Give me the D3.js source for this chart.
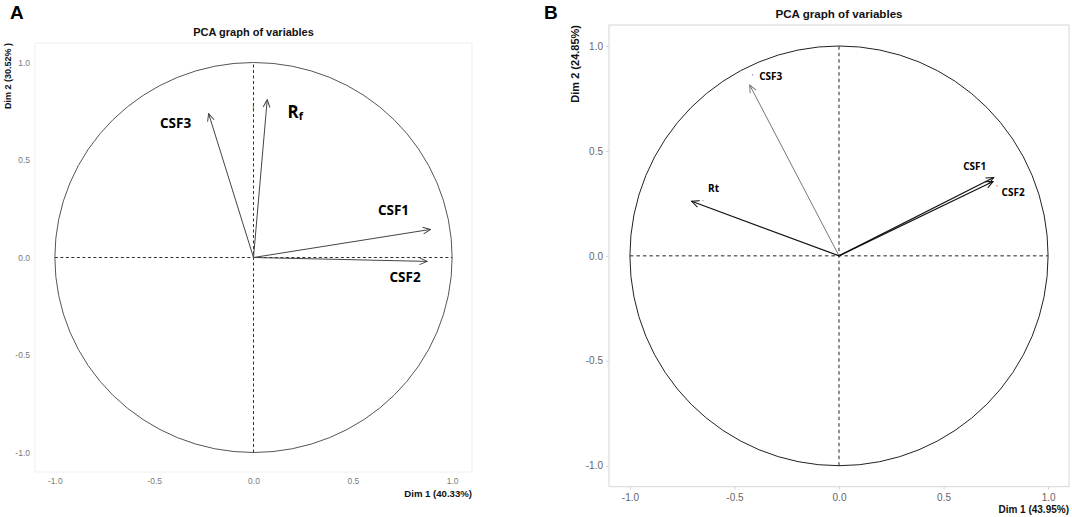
<!DOCTYPE html>
<html>
<head>
<meta charset="utf-8">
<script src="https://cdn.jsdelivr.net/npm/d3@7"></script>
<style>
  body { margin: 0; background: #fff; }
</style>
</head>
<body>
<script>
// values
const ticks = [-1.0, -0.5, 0.0, 0.5, 1.0];

const varsA = ["CSF1", "CSF2", "CSF3", "Rf"];
const dim1A = [0.891, 0.874, -0.226, 0.069];
const dim2A = [0.144, -0.020, 0.738, 0.809];

const varsB = ["CSF1", "CSF2", "CSF3", "Rt"];
const dim1B = [0.740, 0.737, -0.427, -0.705];
const dim2B = [0.373, 0.354, 0.814, 0.260];

const W = 1072, H = 517;
const svg = d3.select("body").append("svg")
    .attr("width", W)
    .attr("height", H)
    .style("font-family", "'Liberation Sans', Arial, sans-serif");

const defs = svg.append("defs");

function arrowMarker(id, color) {
  defs.append("marker")
    .attr("id", id)
    .attr("markerUnits", "userSpaceOnUse")
    .attr("viewBox", "-10 -5 11 10")
    .attr("refX", 0)
    .attr("refY", 0)
    .attr("markerWidth", 11)
    .attr("markerHeight", 10)
    .attr("orient", "auto")
    .append("path")
      .attr("d", "M-7.5,-3.4L0,0L-7.5,3.4")
      .attr("fill", "none")
      .attr("stroke", color)
      .attr("stroke-width", 1);
  return `url(#${id})`;
}

const panels = [
  {
    id: "A", vars: varsA, d1: dim1A, d2: dim2A,
    left: 35, right: 472, top: 43, bottom: 472,
    letterX: 10, frame: "#efefef", tickLen: 0,
    tickColor: "#7a7a7a", tickFont: 8.5, xPad: 5.7, yPad: 5,
    title: { x: 253.5, y: 35.5, size: 11 },
    ylab: { text: "Dim 2 (30.52% )", x: 11, size: 9 },
    xlab: { text: "Dim 1 (40.33%)", y: 497, size: 9.6 },
    circle: "#555", dash: "#333", dashArray: "3,2.5",
    arrowColors: ["#444", "#444", "#444", "#444"],
    labelFont: 13.5, subscript: true,
    offsets: [[-37, -19], [-22, 16], [-33, 9], [28, 11]],
    marks: [[], [], [], [{ dx: -13.7, dy: 5.7, t: "|" }]]
  },
  {
    id: "B", vars: varsB, d1: dim1B, d2: dim2B,
    left: 609, right: 1069, top: 25, bottom: 486.7,
    letterX: 544, frame: "#d6d6d6", tickLen: 3,
    tickColor: "#666", tickFont: 10, xPad: 4, yPad: 3,
    title: { x: 839, y: 17.5, size: 11.6 },
    ylab: { text: "Dim 2 (24.85%)", x: 579, size: 11 },
    xlab: { text: "Dim 1 (43.95%)", y: 513, size: 10 },
    circle: "#222", dash: "#222", dashArray: "3.5,3",
    arrowColors: ["#111", "#111", "#777", "#111"],
    labelFont: 10, subscript: false,
    offsets: [[-19, -12], [20, 10], [21, -9], [22, -13.5]],
    marks: [[], [{ dx: 3.7, dy: 6, t: "'" }], [{ dx: 2.7, dy: -9, t: "'" }],
            [{ dx: 6, dy: -3, t: "." }, { dx: 11.5, dy: -3, t: "." }]]
  }
];

function drawPanel(p) {
  const x = d3.scaleLinear().domain([-1.1, 1.1]).range([p.left, p.right]);
  const y = d3.scaleLinear().domain([-1.1, 1.1]).range([p.bottom, p.top]);
  const g = svg.append("g");

  // panel letter
  g.append("text")
    .attr("x", p.letterX).attr("y", 19)
    .attr("font-size", 19).attr("font-weight", "bold")
    .attr("fill", "#000")
    .text(p.id);

  // frame
  g.append("rect")
    .attr("x", p.left).attr("y", p.top)
    .attr("width", p.right - p.left).attr("height", p.bottom - p.top)
    .attr("fill", "none").attr("stroke", p.frame);

  // axes
  const fmt = d => d.toFixed(1);
  const xa = g.append("g")
    .attr("transform", `translate(0,${p.bottom})`)
    .call(d3.axisBottom(x).tickValues(ticks).tickSize(p.tickLen).tickPadding(p.xPad).tickFormat(fmt));
  const ya = g.append("g")
    .attr("transform", `translate(${p.left},0)`)
    .call(d3.axisLeft(y).tickValues(ticks).tickSize(p.tickLen).tickPadding(p.yPad).tickFormat(fmt));
  [xa, ya].forEach(a => {
    a.select(".domain").remove();
    a.selectAll("line").attr("stroke", p.frame);
    a.selectAll("text")
      .attr("fill", p.tickColor)
      .attr("font-size", p.tickFont)
      .attr("font-family", "'Liberation Sans', Arial, sans-serif");
  });

  // title + axis titles
  g.append("text")
    .attr("x", p.title.x).attr("y", p.title.y)
    .attr("text-anchor", "middle")
    .attr("font-size", p.title.size).attr("font-weight", "bold")
    .attr("fill", "#111")
    .text("PCA graph of variables");

  g.append("text")
    .attr("transform", `translate(${p.ylab.x},${p.top}) rotate(-90)`)
    .attr("text-anchor", "end")
    .attr("font-size", p.ylab.size).attr("font-weight", "bold")
    .attr("fill", "#111")
    .text(p.ylab.text);

  g.append("text")
    .attr("x", p.right).attr("y", p.xlab.y)
    .attr("text-anchor", "end")
    .attr("font-size", p.xlab.size).attr("font-weight", "bold")
    .attr("fill", "#111")
    .text(p.xlab.text);

  // correlation circle
  g.append("ellipse")
    .attr("cx", x(0)).attr("cy", y(0))
    .attr("rx", x(1) - x(0)).attr("ry", y(0) - y(1))
    .attr("fill", "none").attr("stroke", p.circle).attr("stroke-width", 1);

  // dashed axes
  g.append("line")
    .attr("x1", x(-1)).attr("x2", x(1)).attr("y1", y(0)).attr("y2", y(0))
    .attr("stroke", p.dash).attr("stroke-dasharray", p.dashArray);
  g.append("line")
    .attr("x1", x(0)).attr("x2", x(0)).attr("y1", y(-1)).attr("y2", y(1))
    .attr("stroke", p.dash).attr("stroke-dasharray", p.dashArray);

  // arrows
  const rows = p.vars.map((v, i) => ({ v, i, a: p.d1[i], b: p.d2[i] }));
  g.selectAll("line.arrow")
    .data(rows)
    .join("line")
      .attr("class", "arrow")
      .attr("x1", x(0)).attr("y1", y(0))
      .attr("x2", d => x(d.a)).attr("y2", d => y(d.b))
      .attr("stroke", d => p.arrowColors[d.i])
      .attr("stroke-width", d => p.arrowColors[d.i] === "#111" ? 1.2 : 1)
      .attr("marker-end", d => arrowMarker(`ah-${p.id}-${d.i}`, p.arrowColors[d.i]));

  // labels
  rows.forEach(d => {
    const [dx, dy] = p.offsets[d.i];
    const t = g.append("text")
      .attr("x", x(d.a) + dx).attr("y", y(d.b) + dy)
      .attr("text-anchor", "middle")
      .attr("dominant-baseline", "central")
      .attr("font-family", "'Open Sans', 'Noto Sans', sans-serif")
      .attr("font-weight", "bold")
      .attr("font-size", p.labelFont)
      .attr("fill", "#000");
    if (p.subscript && d.v.length === 2) {
      t.append("tspan").attr("font-size", p.labelFont * 1.25).text(d.v[0]);
      t.append("tspan").attr("font-size", p.labelFont * 0.8).attr("dy", 4).text(d.v[1]);
    } else {
      t.text(d.v);
    }
    p.marks[d.i].forEach(m => {
      g.append("text")
        .attr("x", x(d.a) + m.dx).attr("y", y(d.b) + m.dy)
        .attr("text-anchor", "middle")
        .attr("dominant-baseline", "central")
        .attr("font-size", 7)
        .attr("fill", "#333")
        .text(m.t);
    });
  });
}

panels.forEach(drawPanel);
</script>
</body>
</html>
